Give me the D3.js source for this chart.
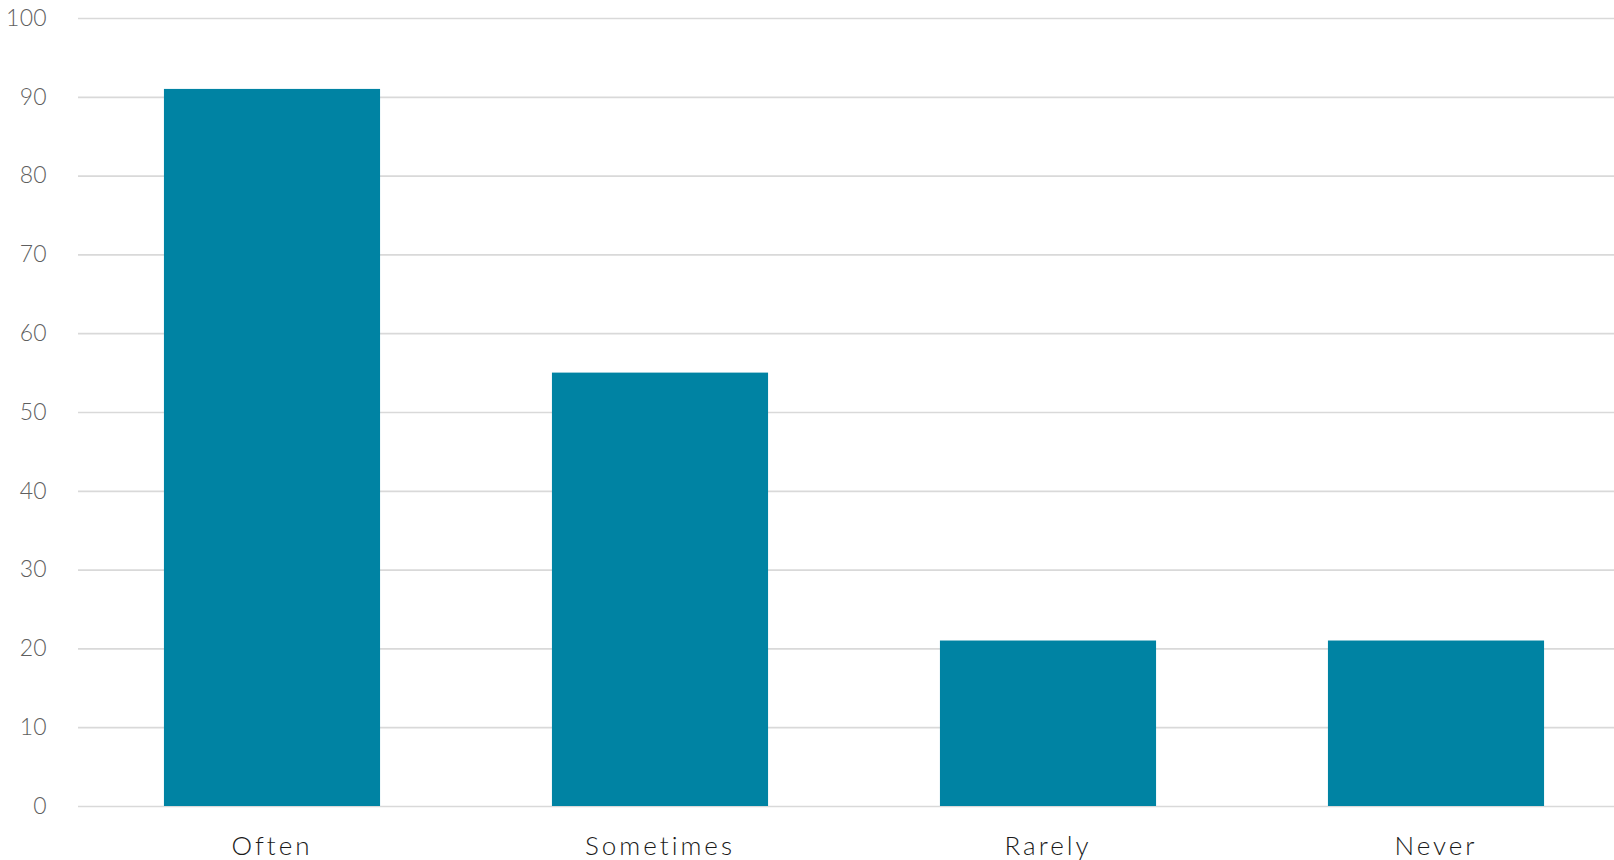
<!DOCTYPE html>
<html>
<head>
<meta charset="utf-8">
<script src="https://cdn.jsdelivr.net/npm/d3@7"></script>
<style>
  html, body { margin: 0; padding: 0; background: #ffffff; overflow: hidden; }
  svg { display: block; }
</style>
</head>
<body>
<svg id="chart" width="1614" height="860"></svg>
<script>
// Survey answer frequencies
const categories = ["Often", "Sometimes", "Rarely", "Never"];
const values = [91, 55, 21, 21];
const yTicks = [0, 10, 20, 30, 40, 50, 60, 70, 80, 90, 100];

const svg = d3.select("#chart");
const margin = { left: 78, top: 18, bottom: 806 };
const plotRight = 1630;

const x = d3.scaleBand()
  .domain(categories)
  .range([margin.left, plotRight])
  .paddingInner(0.443)
  .paddingOuter(0.2215);

const y = d3.scaleLinear()
  .domain([0, 100])
  .range([margin.bottom, margin.top]);

// Horizontal gridlines with value labels
const yAxis = d3.axisLeft(y)
  .tickValues(yTicks)
  .tickSize(-(plotRight - margin.left))
  .tickPadding(31)
  .tickFormat(d3.format("d"));

const gy = svg.append("g")
  .attr("transform", `translate(${margin.left},0)`)
  .call(yAxis);
gy.select(".domain").remove();
gy.selectAll(".tick line")
  .attr("stroke", "#d9d9d9")
  .attr("stroke-width", 1.7);
gy.selectAll(".tick text")
  .attr("fill", "#5f5f5f")
  .attr("font-family", "Lato, 'Open Sans', sans-serif")
  .attr("font-size", 23)
  .attr("font-weight", 300)
  .attr("letter-spacing", 0.3);

// Bars
svg.append("g")
  .selectAll("rect")
  .data(categories.map((c, i) => ({ c, v: values[i] })))
  .join("rect")
  .attr("x", d => x(d.c))
  .attr("width", x.bandwidth())
  .attr("y", d => y(d.v))
  .attr("height", d => y(0) - y(d.v))
  .attr("fill", "#0083a3");

// Category labels
const xAxis = d3.axisBottom(x).tickSize(0).tickPadding(49);
const gx = svg.append("g")
  .attr("transform", `translate(0,${margin.bottom})`)
  .call(xAxis);
gx.select(".domain").remove();
gx.selectAll(".tick text")
  .attr("fill", "#1a1a1a")
  .attr("font-family", "Lato, 'Open Sans', sans-serif")
  .attr("font-size", 26)
  .attr("font-weight", 300)
  .attr("letter-spacing", 3)
  .attr("dy", 0);
</script>
</body>
</html>
